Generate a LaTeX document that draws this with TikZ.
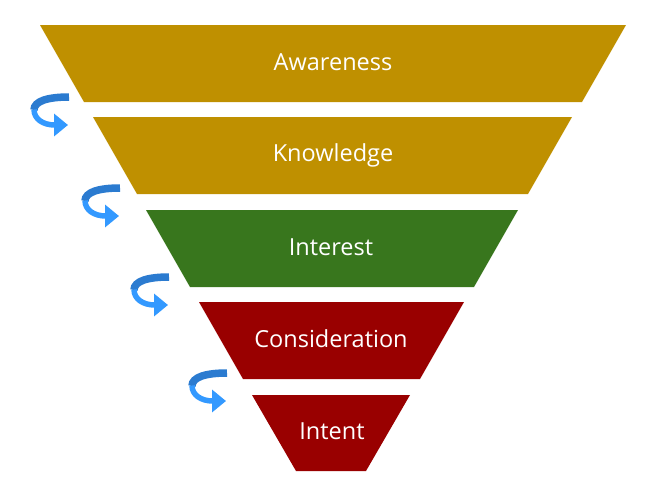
\documentclass[tikz,border=0pt]{standalone}
\usepackage{fontspec}
\setmainfont{Open Sans}
\usetikzlibrary{arrows.meta}
\definecolor{funnelgold}{HTML}{BF9000}
\definecolor{funnelgreen}{HTML}{38761D}
\definecolor{funnelred}{HTML}{990000}
\definecolor{turndark}{HTML}{2B7BD0}
\definecolor{turnlight}{HTML}{3399FF}
\tikzset{
  stagetext/.style={text=white, font=\fontsize{23.5}{28}\selectfont, inner sep=0pt},
  turnback/.style={turndark, line width=7.5pt},
  turnfront/.style={turnlight, line width=5.5pt, -{Triangle[length=14pt,width=22pt]}}
}
\begin{document}
\begin{tikzpicture}[x=1pt,y=-1pt]
    \useasboundingbox (0,0) rectangle (648,491);

    % Define points
    \coordinate (A1) at (40,25);    \coordinate (B1) at (626,25);
    \coordinate (C1) at (582,102);  \coordinate (D1) at (84,102);
    \coordinate (A2) at (93,117);   \coordinate (B2) at (572,117);
    \coordinate (C2) at (528,194);  \coordinate (D2) at (137,194);
    \coordinate (A3) at (146,210);  \coordinate (B3) at (518,210);
    \coordinate (C3) at (474,287);  \coordinate (D3) at (190,287);
    \coordinate (A4) at (199,302);  \coordinate (B4) at (464,302);
    \coordinate (C4) at (420,379);  \coordinate (D4) at (243,379);
    \coordinate (A5) at (252,395);  \coordinate (B5) at (410,395);
    \coordinate (C5) at (366,471);  \coordinate (D5) at (296,471);

    % Fill stages
    \fill[funnelgold] (A1) -- (B1) -- (C1) -- (D1) -- cycle;
    \fill[funnelgold] (A2) -- (B2) -- (C2) -- (D2) -- cycle;
    \fill[funnelgreen] (A3) -- (B3) -- (C3) -- (D3) -- cycle;
    \fill[funnelred] (A4) -- (B4) -- (C4) -- (D4) -- cycle;
    \fill[funnelred] (A5) -- (B5) -- (C5) -- (D5) -- cycle;

    % Labels
    \node[stagetext] (awareness) at (333,62) {Awareness};
    \node[stagetext] (knowledge) at (333,155) {Knowledge};
    \node[stagetext] (interest) at (331,247) {Interest};
    \node[stagetext] (consideration) at (331,339) {Consideration};
    \node[stagetext] (intent) at (332,431) {Intent};

    % Turn arrows
    \foreach \tx/\ty [count=\i] in {68/125, 119/216, 168/305, 226/401} {
      \begin{scope}[shift={(\tx,\ty)}]
        \coordinate (turn\i) at (0,0);
        \draw[turnback] (1,-28) .. controls (-20,-28) and (-34,-24) .. (-34,-15);
        \draw[turnfront] (-34,-15.5) .. controls (-34,-6) and (-25,0) .. (0,0);
      \end{scope}
    }
\end{tikzpicture}
\end{document}
